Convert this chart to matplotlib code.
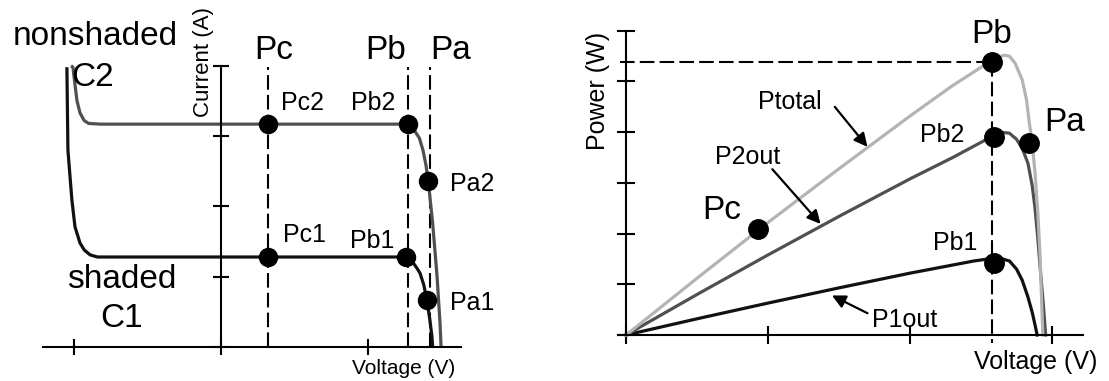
import numpy as np
import matplotlib
matplotlib.use("Agg")
import matplotlib.pyplot as plt

plt.rcParams["font.family"] = ["Liberation Sans", "DejaVu Sans"]

# I-V curves of the two series cells (voltage, current)
c2_v = [-1.02, -1.007, -0.98, -0.959, -0.93, -0.90, -0.82, 1.27, 1.31, 1.35, 1.374, 1.395, 1.41, 1.44, 1.47, 1.49, 1.497]
c2_i = [4.0, 3.98, 3.51, 3.33, 3.22, 3.18, 3.17, 3.17, 3.10, 2.97, 2.80, 2.58, 2.36, 1.76, 1.00, 0.34, 0.0]
c1_v = [-1.048, -1.041, -1.014, -0.993, -0.959, -0.93, -0.89, -0.84, 1.26, 1.30, 1.33, 1.354, 1.38, 1.40, 1.42, 1.435, 1.44]
c1_i = [3.98, 2.80, 2.09, 1.71, 1.48, 1.38, 1.31, 1.28, 1.28, 1.22, 1.13, 1.05, 0.88, 0.67, 0.40, 0.15, 0.0]

# operating points on the I-V curves
iv_pts_names = ["Pc2", "Pb2", "Pa2", "Pc1", "Pb1", "Pa1"]
iv_pts_v = [0.32, 1.27, 1.41, 0.32, 1.26, 1.40]
iv_pts_i = [3.17, 3.17, 2.36, 1.28, 1.28, 0.67]
iv_marks = ["Pc", "Pb", "Pa"]
iv_marks_v = [0.32, 1.27, 1.42]

# P-V curves
pt_v = [0, 0.5, 1.0, 1.5, 2.0, 2.3, 2.5, 2.6, 2.66, 2.70, 2.74, 2.79, 2.82, 2.84, 2.86, 2.88, 2.90, 2.915, 2.925, 2.935]
pt_p = [0, 1.12, 2.22, 3.28, 4.32, 4.92, 5.28, 5.44, 5.52, 5.50, 5.36, 5.03, 4.64, 4.18, 3.80, 3.20, 2.40, 1.60, 0.80, 0.0]
p2_v = [0, 0.5, 1.0, 1.5, 2.0, 2.3, 2.5, 2.58, 2.64, 2.70, 2.75, 2.79, 2.83, 2.86, 2.88, 2.90, 2.92, 2.94, 2.955]
p2_p = [0, 0.80, 1.58, 2.34, 3.08, 3.50, 3.80, 3.92, 4.00, 3.98, 3.86, 3.68, 3.39, 2.95, 2.50, 1.90, 1.20, 0.55, 0.0]
p1_v = [0, 0.5, 1.0, 1.5, 2.0, 2.3, 2.45, 2.55, 2.65, 2.70, 2.75, 2.79, 2.83, 2.86, 2.88, 2.895]
p1_p = [0, 0.32, 0.63, 0.93, 1.22, 1.38, 1.46, 1.50, 1.50, 1.46, 1.30, 1.08, 0.75, 0.45, 0.20, 0.0]

pv_pts_names = ["Pb", "Pb2", "Pb1", "Pa", "Pc"]
pv_pts_v = [2.58, 2.59, 2.59, 2.84, 0.93]
pv_pts_p = [5.38, 3.91, 1.42, 3.78, 2.09]

DARK = "#505050"
LIGHT = "#b4b4b4"
BLACK = "#111111"

fig = plt.figure(figsize=(11.09, 3.81), dpi=100)


def style_axes(ax, xb, yb, xt, yt, tl):
    for s in ["top", "right"]:
        ax.spines[s].set_visible(False)
    ax.spines["left"].set_position(("data", 0))
    ax.spines["bottom"].set_position(("data", 0))
    ax.spines["left"].set_bounds(*yb)
    ax.spines["bottom"].set_bounds(*xb)
    for s in ["left", "bottom"]:
        ax.spines[s].set_linewidth(1.5)
    ax.set_xticks(xt)
    ax.set_yticks(yt)
    ax.set_xticklabels([])
    ax.set_yticklabels([])
    ax.tick_params(direction="inout", length=tl, width=1.5)
    ax.patch.set_alpha(0)


# ---- I-V panel ----
ax1 = fig.add_axes([0, 0, 500 / 1109, 1])
ax1.set_xlim(-1.503, 1.898)
ax1.set_ylim(-0.484, 4.936)
style_axes(ax1, (-1.21, 1.63), (0, 4.0), [-1, 0, 1], [0, 1, 2, 3, 4], 11.5)

dash = (0, (7, 2.5))
for v in iv_marks_v:
    ax1.plot([v, v], [0, 3.98], color="k", lw=1.5, ls=dash)
ax1.plot(c1_v, c1_i, color=BLACK, lw=2.3, solid_capstyle="butt")
ax1.plot(c2_v, c2_i, color=DARK, lw=2.3, solid_capstyle="butt")
ax1.plot(iv_pts_v, iv_pts_i, "o", color="k", ms=13, ls="none")

big = 24
small = 18
ax1.text(-0.857, 4.41, "nonshaded", fontsize=big, ha="center", va="center")
ax1.text(-0.871, 3.83, "C2", fontsize=big, ha="center", va="center")
ax1.text(-0.673, 0.96, "shaded", fontsize=big, ha="center", va="center")
ax1.text(-0.673, 0.41, "C1", fontsize=big, ha="center", va="center")
for name, x in zip(iv_marks, [0.361, 1.122, 1.56]):
    ax1.text(x, 4.22, name, fontsize=big, ha="center", va="center")
lbl_xy = {"Pc2": (0.558, 3.47), "Pb2": (1.034, 3.47), "Pa2": (1.71, 2.32),
          "Pc1": (0.565, 1.60), "Pb1": (1.027, 1.51), "Pa1": (1.71, 0.63)}
for name in iv_pts_names:
    x, y = lbl_xy[name]
    ax1.text(x, y, name, fontsize=small, ha="center", va="center")
ax1.text(-0.122, 4.05, "Current (A)", fontsize=16, rotation=90, ha="center", va="center")
ax1.text(1.245, -0.30, "Voltage (V)", fontsize=15, ha="center", va="center")

# ---- P-V panel ----
ax2 = fig.add_axes([540 / 1109, 0, 569 / 1109, 1])
ax2.set_xlim(-0.606, 3.401)
ax2.set_ylim(-0.907, 6.607)
style_axes(ax2, (-0.06, 3.22), (0, 6.0), [0, 1, 2, 3], [0, 1, 2, 3, 4, 5, 6], 13)

ax2.plot([-0.04, pv_pts_v[0]], [pv_pts_p[0], pv_pts_p[0]], color="k", lw=1.5, ls=dash)
ax2.plot([pv_pts_v[0], pv_pts_v[0]], [pv_pts_p[0], -0.16], color="k", lw=1.5, ls=dash)
ax2.plot(p1_v, p1_p, color=BLACK, lw=2.3)
ax2.plot(p2_v, p2_p, color=DARK, lw=2.3)
ax2.plot(pt_v, pt_p, color=LIGHT, lw=2.3)
ax2.plot(pv_pts_v, pv_pts_p, "o", color="k", ms=14, ls="none")

pv_lbl_xy = {"Pb": (2.577, 5.92, 24), "Pb2": (2.225, 3.95, small), "Pb1": (2.317, 1.82, small),
             "Pa": (3.085, 4.20, 24), "Pc": (0.676, 2.46, 24)}
for name in pv_pts_names:
    x, y, fs = pv_lbl_xy[name]
    ax2.text(x, y, name, fontsize=fs, ha="center", va="center")

arrow = dict(arrowstyle="-|>", color="k", lw=1.6, mutation_scale=20, shrinkA=0, shrinkB=0)
ax2.annotate("", xy=(1.70, 3.71), xytext=(1.47, 4.50), arrowprops=arrow)
ax2.annotate("", xy=(1.37, 2.19), xytext=(1.03, 3.27), arrowprops=arrow)
ax2.annotate("", xy=(1.45, 0.78), xytext=(1.70, 0.43), arrowprops=arrow)
ax2.text(1.155, 4.60, "Ptotal", fontsize=small, ha="center", va="center")
ax2.text(0.859, 3.52, "P2out", fontsize=small, ha="center", va="center")
ax2.text(1.965, 0.29, "P1out", fontsize=small, ha="center", va="center")
ax2.text(-0.197, 4.81, "Power (W)", fontsize=18, rotation=90, ha="center", va="center")
ax2.text(2.887, -0.53, "Voltage (V)", fontsize=18, ha="center", va="center")

fig.savefig("out.png", dpi=100)
